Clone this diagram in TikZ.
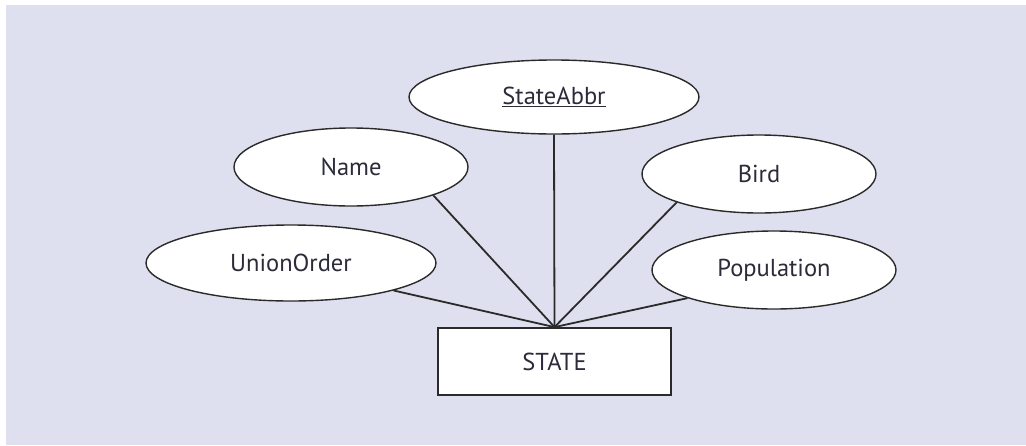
\documentclass[tikz,border=0pt]{standalone}
\usepackage{fontspec}
\setmainfont{PT Sans}
\usetikzlibrary{shapes.geometric}
\definecolor{panel}{HTML}{DFE0EF}
\definecolor{ink}{HTML}{2A2A2A}
\definecolor{txt}{HTML}{2B2B3A}
\tikzset{
  attr/.style={ellipse, draw=ink, line width=1.4pt, fill=white, inner sep=0pt,
    text=txt, font=\fontsize{24.5}{28}\selectfont},
  entity/.style={rectangle, draw=ink, line width=1.8pt, fill=white, inner sep=0pt,
    minimum width=233pt, minimum height=67pt, text=txt, font=\fontsize{24.5}{28}\selectfont},
  link/.style={draw=ink, line width=1.8pt}
}
\begin{document}
\begin{tikzpicture}[x=1pt, y=-1pt]
  \useasboundingbox (0,0) rectangle (1026,445);
  \fill[white] (0,0) rectangle (1026,445);
  \fill[panel] (6,5) rectangle (1026,445);

  % attributes
  \node[attr, minimum width=290pt, minimum height=74pt] (abbr) at (554,97) {\underline{StateAbbr}};
  \node[attr, minimum width=234pt, minimum height=78pt] (name) at (351,167) {Name};
  \node[attr, minimum width=234pt, minimum height=78pt] (bird) at (759,174) {Bird};
  \node[attr, minimum width=290pt, minimum height=76pt] (union) at (291,263) {UnionOrder};
  \node[attr, minimum width=244pt, minimum height=78pt] (pop) at (774,270) {Population};

  % entity
  \node[entity] (state) at (554.5,361.5) {STATE};

  % connectors
  \draw[link] (abbr.south) -- (state.north);
  \draw[link] (name.-19) -- (state.north);
  \draw[link] (bird.-161) -- (state.north);
  \draw[link] (union.-15) -- (state.north);
  \draw[link] (pop.-162) -- (state.north);
\end{tikzpicture}
\end{document}
